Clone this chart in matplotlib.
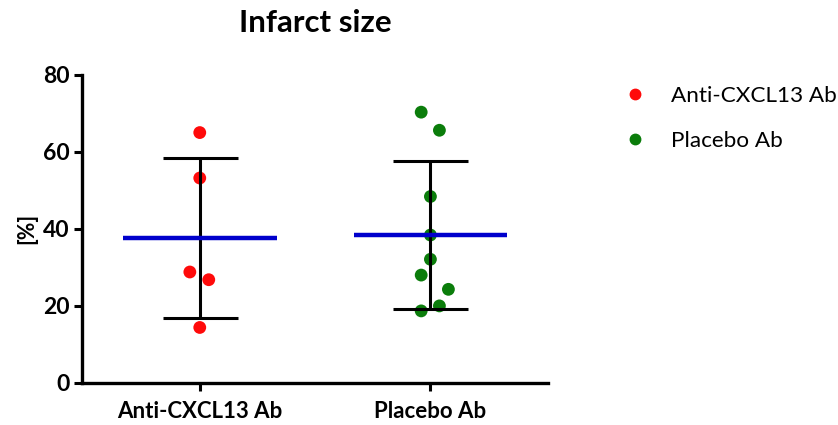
import numpy as np
import matplotlib
matplotlib.use('Agg')
from matplotlib import pyplot as plt
from matplotlib.lines import Line2D

plt.rcParams['font.family'] = ['Lato', 'DejaVu Sans']

groups = ['Anti-CXCL13 Ab', 'Placebo Ab']
anti_vals = [65.0, 53.2, 28.8, 26.8, 14.4]
anti_jitter = [0, 0, -0.043, 0.039, 0]
placebo_vals = [70.3, 65.6, 48.4, 38.4, 32.1, 28.0, 24.3, 20.0, 18.7]
placebo_jitter = [-0.04, 0.039, 0, 0, 0, -0.04, 0.078, 0.039, -0.04]
colors = ['#ff0a0a', '#0b7d0b']
yticks = [0, 20, 40, 60, 80]

fig = plt.figure(figsize=(8.38, 4.25), dpi=100)
ax = fig.add_axes([0.098, 0.099, 0.556, 0.725])

series = [(anti_vals, anti_jitter), (placebo_vals, placebo_jitter)]
for i, (vals, jit) in enumerate(series):
    vals = np.array(vals)
    x = i + np.array(jit)
    ax.scatter(x, vals, s=85, color=colors[i], zorder=2, edgecolors='none')
    m = vals.mean()
    sd = vals.std(ddof=1)
    ax.errorbar(i, m, yerr=sd, fmt='none', ecolor='black', elinewidth=2.2,
                capsize=27, capthick=2.2, zorder=3)
    ax.hlines(m, i - 0.333, i + 0.333, color='#0000cc', lw=3.2, zorder=4)

ax.set_xlim(-0.51, 1.51)
ax.set_ylim(0, 80)
ax.set_yticks(yticks)
ax.set_xticks([0, 1])
ax.set_xticklabels(groups, fontsize=16, fontweight='bold')
for lab in ax.get_yticklabels():
    lab.set_fontsize(16.5)
    lab.set_fontweight('bold')
ax.tick_params(width=2.2, length=6, pad=3)
ax.tick_params(axis='x', pad=7)
for s in ['top', 'right']:
    ax.spines[s].set_visible(False)
for s in ['left', 'bottom']:
    ax.spines[s].set_linewidth(2.4)

ax.set_ylabel('[%]', fontsize=15.5, fontweight='bold', labelpad=4)
ax.set_title('Infarct size', fontsize=22.5, fontweight='bold', pad=31)

handles = [Line2D([], [], marker='o', ls='none', color=c, markersize=7.5)
           for c in colors]
fig.legend(handles, groups, loc='upper left', bbox_to_anchor=(0.717, 0.845),
           frameon=False, fontsize=16.2, handletextpad=1.0, labelspacing=1.1,
           handlelength=1.2)

fig.savefig('out.png', dpi=100)
